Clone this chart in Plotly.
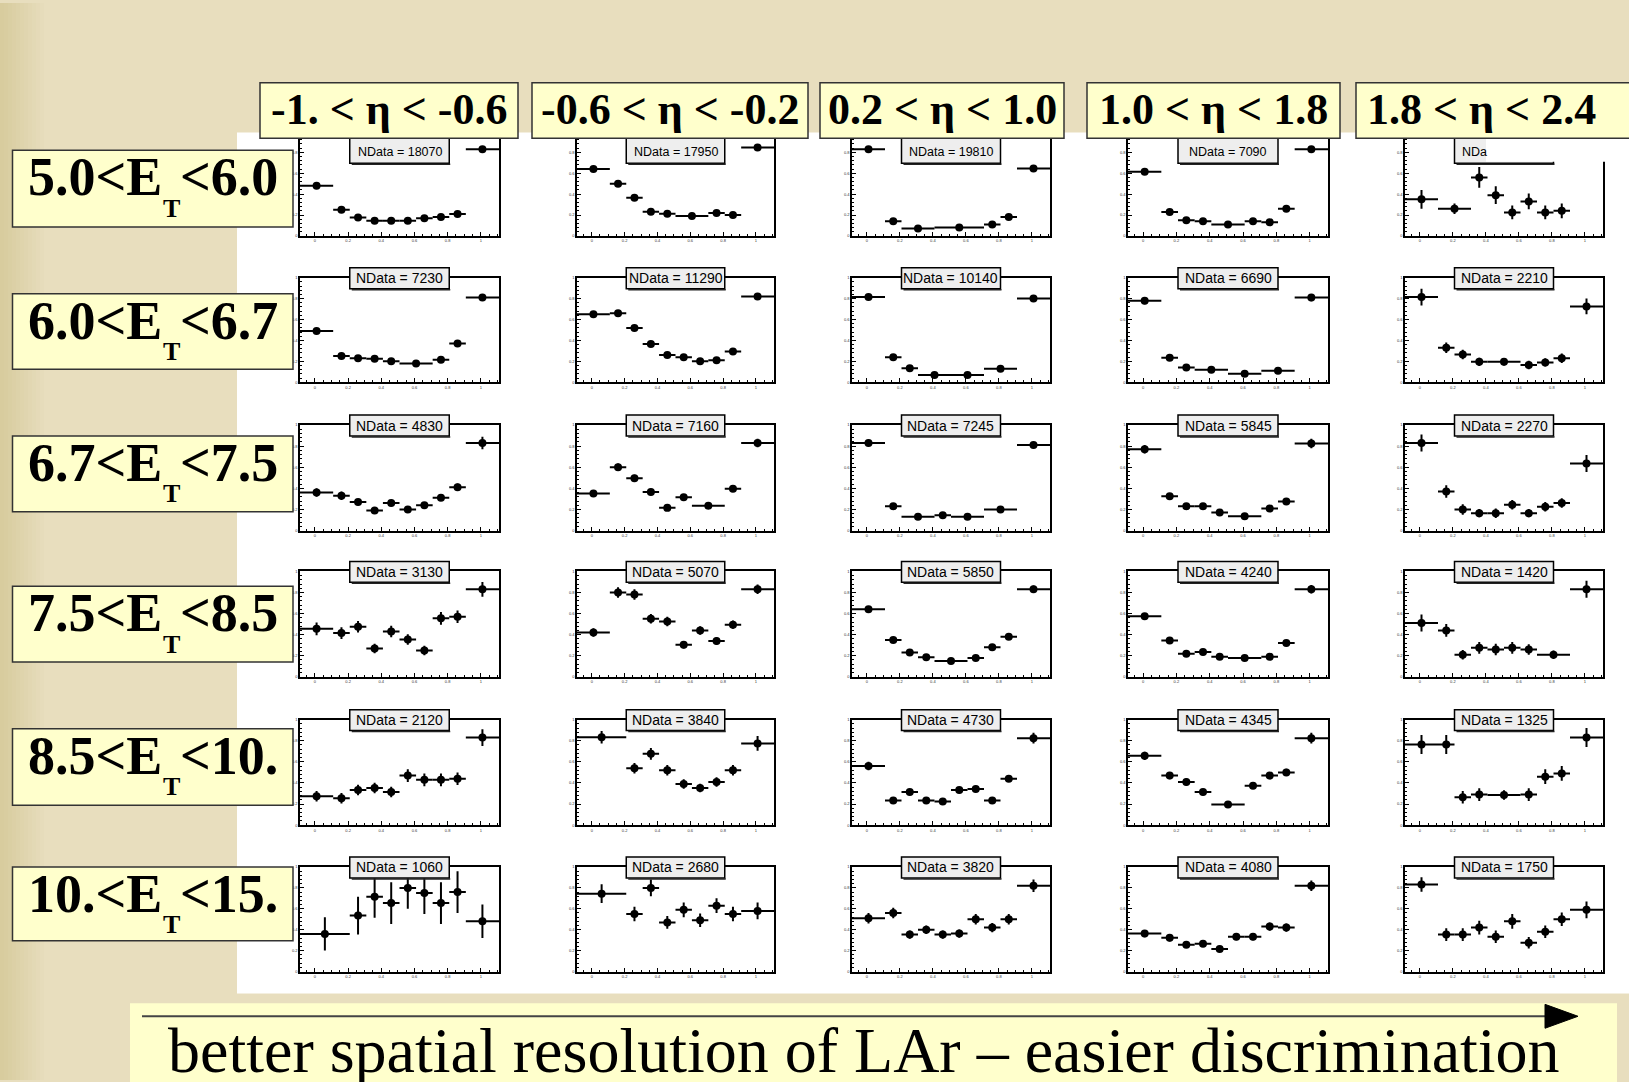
import plotly.graph_objects as go

W, H = 1629, 1082

# ---------------- labels ----------------
ETA_LABELS = ["-1. &lt; η &lt; -0.6", "-0.6 &lt; η &lt; -0.2", "0.2 &lt; η &lt; 1.0",
              "1.0 &lt; η &lt; 1.8", "1.8 &lt; η &lt; 2.4"]
ET_LEFT = ["5.0&lt;E", "6.0&lt;E", "6.7&lt;E", "7.5&lt;E", "8.5&lt;E", "10.&lt;E"]
ET_SUB = "T"
ET_RIGHT = ["&lt;6.0", "&lt;6.7", "&lt;7.5", "&lt;8.5", "&lt;10.", "&lt;15."]
NDATA = [["NData = 18070", "NData = 17950", "NData = 19810", "NData = 7090", "NDa"],
         ["NData = 7230", "NData = 11290", "NData = 10140", "NData = 6690", "NData = 2210"],
         ["NData = 4830", "NData = 7160", "NData = 7245", "NData = 5845", "NData = 2270"],
         ["NData = 3130", "NData = 5070", "NData = 5850", "NData = 4240", "NData = 1420"],
         ["NData = 2120", "NData = 3840", "NData = 4730", "NData = 4345", "NData = 1325"],
         ["NData = 1060", "NData = 2680", "NData = 3820", "NData = 4080", "NData = 1750"]]
BANNER = "better spatial resolution of LAr – easier discrimination"
X_TICKS = [0, 0.2, 0.4, 0.6, 0.8, 1]
X_TICKTEXT = ["0", "0.2", "0.4", "0.6", "0.8", "1"]

# ---------------- data (bin centres, half widths, normalised counts, errors) ----------------
STD_X = [0.01, 0.16, 0.26, 0.36, 0.46, 0.56, 0.66, 0.76, 0.86, 1.01]
STD_HW = [0.1, 0.05, 0.05, 0.05, 0.05, 0.05, 0.05, 0.05, 0.05, 0.1]

ROW1_X = [STD_X,
          [0.01, 0.16, 0.26, 0.36, 0.46, 0.61, 0.76, 0.86, 1.01],
          [0.01, 0.16, 0.31, 0.56, 0.76, 0.86, 1.01],
          [0.01, 0.16, 0.26, 0.36, 0.51, 0.66, 0.76, 0.86, 1.01],
          [0.01, 0.21, 0.36, 0.46, 0.56, 0.66, 0.76, 0.86]]
ROW1_HW = [STD_HW,
           [0.1, 0.05, 0.05, 0.05, 0.05, 0.1, 0.05, 0.05, 0.1],
           [0.1, 0.05, 0.1, 0.15, 0.05, 0.05, 0.1],
           [0.1, 0.05, 0.05, 0.05, 0.1, 0.05, 0.05, 0.05, 0.1],
           [0.1, 0.1, 0.05, 0.05, 0.05, 0.05, 0.05, 0.05]]
ROW1_Y = [[0.48, 0.25, 0.175, 0.145, 0.145, 0.145, 0.17, 0.18, 0.21, 0.83],
          [0.64, 0.50, 0.365, 0.232, 0.212, 0.19, 0.22, 0.20, 0.845],
          [0.83, 0.14, 0.07, 0.08, 0.11, 0.18, 0.645],
          [0.615, 0.23, 0.15, 0.14, 0.11, 0.14, 0.13, 0.26, 0.83],
          [0.35, 0.26, 0.56, 0.39, 0.225, 0.33, 0.225, 0.24]]
ROW1_E = [[0.012] * 10,
          [0.012] * 9,
          [0.01] * 7,
          [0.015] * 9,
          [0.09, 0.05, 0.1, 0.085, 0.065, 0.075, 0.065, 0.07]]

ROW2_X = [[0.01, 0.16, 0.26, 0.36, 0.46, 0.61, 0.76, 0.86, 1.01],
          STD_X,
          [0.01, 0.16, 0.26, 0.41, 0.61, 0.81, 1.01],
          [0.01, 0.16, 0.26, 0.41, 0.61, 0.81, 1.01],
          [0.01, 0.16, 0.26, 0.36, 0.51, 0.66, 0.76, 0.86, 1.01]]
ROW2_HW = [[0.1, 0.05, 0.05, 0.05, 0.05, 0.1, 0.05, 0.05, 0.1],
           STD_HW,
           [0.1, 0.05, 0.05, 0.1, 0.1, 0.1, 0.1],
           [0.1, 0.05, 0.05, 0.1, 0.1, 0.1, 0.1],
           [0.1, 0.05, 0.05, 0.05, 0.1, 0.05, 0.05, 0.05, 0.1]]
ROW2_Y = [[0.49, 0.25, 0.23, 0.225, 0.20, 0.18, 0.215, 0.37, 0.81],
          [0.65, 0.66, 0.52, 0.365, 0.26, 0.24, 0.20, 0.21, 0.295, 0.82],
          [0.815, 0.24, 0.135, 0.07, 0.07, 0.128, 0.80],
          [0.78, 0.235, 0.14, 0.12, 0.08, 0.11, 0.81],
          [0.815, 0.33, 0.265, 0.195, 0.195, 0.165, 0.19, 0.23, 0.725]]
ROW2_E = [[0.02, 0.015, 0.015, 0.015, 0.015, 0.012, 0.015, 0.02, 0.03],
          [0.02, 0.02, 0.02, 0.02, 0.015, 0.015, 0.015, 0.015, 0.02, 0.03],
          [0.02, 0.02, 0.015, 0.012, 0.012, 0.015, 0.02],
          [0.035, 0.02, 0.02, 0.02, 0.015, 0.02, 0.035],
          [0.08, 0.05, 0.045, 0.04, 0.035, 0.04, 0.04, 0.045, 0.075]]

ROW3_X = [STD_X,
          [0.01, 0.16, 0.26, 0.36, 0.46, 0.56, 0.71, 0.86, 1.01],
          [0.01, 0.16, 0.31, 0.46, 0.61, 0.81, 1.01],
          [0.01, 0.16, 0.26, 0.36, 0.46, 0.61, 0.76, 0.86, 1.01],
          STD_X]
ROW3_HW = [STD_HW,
           [0.1, 0.05, 0.05, 0.05, 0.05, 0.05, 0.1, 0.05, 0.1],
           [0.1, 0.05, 0.1, 0.05, 0.1, 0.1, 0.1],
           [0.1, 0.05, 0.05, 0.05, 0.05, 0.1, 0.05, 0.05, 0.1],
           STD_HW]
ROW3_Y = [[0.36, 0.33, 0.27, 0.19, 0.26, 0.20, 0.24, 0.31, 0.41, 0.83],
          [0.35, 0.60, 0.495, 0.365, 0.215, 0.315, 0.235, 0.395, 0.83],
          [0.83, 0.23, 0.13, 0.145, 0.13, 0.20, 0.81],
          [0.77, 0.325, 0.23, 0.23, 0.17, 0.135, 0.21, 0.275, 0.825],
          [0.83, 0.37, 0.20, 0.165, 0.165, 0.245, 0.165, 0.225, 0.26, 0.635]]
ROW3_E = [[0.04, 0.04, 0.03, 0.03, 0.03, 0.03, 0.03, 0.03, 0.035, 0.06],
          [0.025, 0.035, 0.035, 0.03, 0.025, 0.03, 0.02, 0.03, 0.04],
          [0.03, 0.02, 0.015, 0.015, 0.015, 0.02, 0.03],
          [0.04, 0.025, 0.02, 0.02, 0.02, 0.015, 0.02, 0.025, 0.045],
          [0.08, 0.06, 0.05, 0.04, 0.045, 0.045, 0.04, 0.045, 0.045, 0.08]]

ROW4_X = [STD_X,
          STD_X,
          [0.01, 0.16, 0.26, 0.36, 0.51, 0.66, 0.76, 0.86, 1.01],
          [0.01, 0.16, 0.26, 0.36, 0.46, 0.61, 0.76, 0.86, 1.01],
          [0.01, 0.16, 0.26, 0.36, 0.46, 0.56, 0.66, 0.81, 1.01]]
ROW4_HW = [STD_HW,
           STD_HW,
           [0.1, 0.05, 0.05, 0.05, 0.1, 0.05, 0.05, 0.05, 0.1],
           [0.1, 0.05, 0.05, 0.05, 0.05, 0.1, 0.05, 0.05, 0.1],
           [0.1, 0.05, 0.05, 0.05, 0.05, 0.05, 0.05, 0.1, 0.1]]
ROW4_Y = [[0.455, 0.415, 0.475, 0.27, 0.43, 0.355, 0.25, 0.555, 0.57, 0.83],
          [0.42, 0.80, 0.78, 0.55, 0.525, 0.305, 0.44, 0.34, 0.495, 0.83],
          [0.64, 0.35, 0.23, 0.185, 0.15, 0.18, 0.28, 0.38, 0.83],
          [0.575, 0.345, 0.22, 0.235, 0.19, 0.18, 0.19, 0.32, 0.83],
          [0.51, 0.44, 0.21, 0.275, 0.26, 0.275, 0.26, 0.21, 0.83]]
ROW4_E = [[0.06, 0.055, 0.055, 0.045, 0.055, 0.05, 0.045, 0.06, 0.06, 0.07],
          [0.04, 0.05, 0.05, 0.045, 0.045, 0.035, 0.04, 0.035, 0.04, 0.045],
          [0.03, 0.02, 0.02, 0.02, 0.015, 0.02, 0.02, 0.025, 0.035],
          [0.03, 0.025, 0.02, 0.02, 0.02, 0.015, 0.02, 0.025, 0.04],
          [0.08, 0.06, 0.045, 0.055, 0.055, 0.055, 0.05, 0.04, 0.08]]

ROW5_X = [STD_X,
          [0.06, 0.26, 0.36, 0.46, 0.56, 0.66, 0.76, 0.86, 1.01],
          STD_X,
          [0.01, 0.16, 0.26, 0.36, 0.51, 0.66, 0.76, 0.86, 1.01],
          [0.01, 0.16, 0.26, 0.36, 0.51, 0.66, 0.76, 0.86, 1.01]]
ROW5_HW = [STD_HW,
           [0.15, 0.05, 0.05, 0.05, 0.05, 0.05, 0.05, 0.05, 0.1],
           STD_HW,
           [0.1, 0.05, 0.05, 0.05, 0.1, 0.05, 0.05, 0.05, 0.1],
           [0.1, 0.05, 0.05, 0.05, 0.1, 0.05, 0.05, 0.05, 0.1]]
ROW5_Y = [[0.275, 0.255, 0.333, 0.353, 0.314, 0.47, 0.43, 0.43, 0.44, 0.83],
          [0.833, 0.54, 0.676, 0.52, 0.39, 0.353, 0.41, 0.52, 0.775],
          [0.56, 0.235, 0.314, 0.235, 0.225, 0.333, 0.343, 0.235, 0.44, 0.825],
          [0.657, 0.47, 0.41, 0.314, 0.196, 0.373, 0.47, 0.50, 0.825],
          [0.765, 0.765, 0.265, 0.29, 0.285, 0.29, 0.46, 0.49, 0.83]]
ROW5_E = [[0.05, 0.05, 0.05, 0.05, 0.05, 0.06, 0.06, 0.06, 0.06, 0.08],
          [0.06, 0.05, 0.055, 0.05, 0.045, 0.04, 0.045, 0.05, 0.07],
          [0.04, 0.025, 0.03, 0.025, 0.025, 0.03, 0.03, 0.025, 0.03, 0.05],
          [0.04, 0.035, 0.035, 0.03, 0.02, 0.03, 0.035, 0.035, 0.05],
          [0.09, 0.09, 0.06, 0.06, 0.045, 0.06, 0.07, 0.07, 0.09]]

ROW6_X = [[0.06, 0.26, 0.36, 0.46, 0.56, 0.66, 0.76, 0.86, 1.01],
          [0.06, 0.26, 0.36, 0.46, 0.56, 0.66, 0.76, 0.86, 1.01],
          STD_X,
          STD_X,
          STD_X]
ROW6_HW = [[0.15, 0.05, 0.05, 0.05, 0.05, 0.05, 0.05, 0.05, 0.1],
           [0.15, 0.05, 0.05, 0.05, 0.05, 0.05, 0.05, 0.05, 0.1],
           STD_HW,
           STD_HW,
           STD_HW]
ROW6_Y = [[0.36, 0.535, 0.715, 0.655, 0.80, 0.75, 0.655, 0.76, 0.48],
          [0.745, 0.55, 0.80, 0.47, 0.59, 0.49, 0.63, 0.55, 0.58],
          [0.51, 0.56, 0.353, 0.40, 0.353, 0.363, 0.50, 0.42, 0.50, 0.82],
          [0.363, 0.323, 0.255, 0.265, 0.216, 0.333, 0.333, 0.43, 0.42, 0.82],
          [0.833, 0.353, 0.353, 0.42, 0.333, 0.48, 0.275, 0.38, 0.50, 0.59]]
ROW6_E = [[0.16, 0.18, 0.2, 0.2, 0.2, 0.2, 0.2, 0.2, 0.16],
          [0.09, 0.07, 0.08, 0.06, 0.07, 0.065, 0.07, 0.07, 0.08],
          [0.05, 0.05, 0.04, 0.04, 0.04, 0.04, 0.05, 0.045, 0.05, 0.06],
          [0.035, 0.035, 0.03, 0.03, 0.03, 0.035, 0.035, 0.04, 0.04, 0.05],
          [0.07, 0.06, 0.06, 0.065, 0.06, 0.07, 0.055, 0.06, 0.065, 0.08]]

ALL_X = [ROW1_X, ROW2_X, ROW3_X, ROW4_X, ROW5_X, ROW6_X]
ALL_HW = [ROW1_HW, ROW2_HW, ROW3_HW, ROW4_HW, ROW5_HW, ROW6_HW]
ALL_Y = [ROW1_Y, ROW2_Y, ROW3_Y, ROW4_Y, ROW5_Y, ROW6_Y]
ALL_E = [ROW1_E, ROW2_E, ROW3_E, ROW4_E, ROW5_E, ROW6_E]

# ---------------- geometry (pixels) ----------------
COL_PX = [(300, 499), (577, 774), (852, 1050), (1128, 1328), (1405, 1603)]
ROW_PX = [(129, 234), (276, 381), (424, 530), (571, 677), (720, 826), (868, 973)]
ROWLAB_PX = [(148, 225), (292, 368), (435, 511), (586, 662), (729, 806), (868, 942)]
COLLAB_PX = [(260, 518), (532, 808), (820, 1064), (1087, 1340), (1356, 1640)]
COLTXT_X = [389, 670, 942, 1213, 1481]

BEIGE = "#E8DEBE"
LYEL = "#FFFFCC"
SERIF = "Liberation Serif"


def px(x):
    return x / W


def py(y):
    return 1 - y / H


fig = go.Figure()
layout = {}
shapes = []
annotations = []

# background: left gradient + white canvas + banner
for i in range(12):
    t = i / 11
    r = int(216 + (232 - 216) * t)
    g = int(204 + (222 - 204) * t)
    b = int(158 + (190 - 158) * t)
    shapes.append(dict(type="rect", xref="paper", yref="paper", x0=px(i * 4), x1=px(i * 4 + 4.5),
                       y0=0, y1=1, fillcolor=f"rgb({r},{g},{b})", line_width=0, layer="below"))
shapes.append(dict(type="rect", xref="paper", yref="paper", x0=px(237), x1=1, y0=py(995), y1=py(130),
                   fillcolor="white", line_width=0, layer="below"))
shapes.append(dict(type="rect", xref="paper", yref="paper", x0=px(130), x1=px(1617), y0=py(1090), y1=py(1005),
                   fillcolor=LYEL, line_width=0, layer="below"))
shapes.append(dict(type="line", xref="paper", yref="paper", x0=px(142), x1=px(1550), y0=py(1018), y1=py(1018),
                   line=dict(color="#444444", width=2), layer="above"))
shapes.append(dict(type="path", xref="paper", yref="paper",
                   path=f"M {px(1545)},{py(1006)} L {px(1578)},{py(1018)} L {px(1545)},{py(1030)} Z",
                   fillcolor="black", line=dict(color="black", width=1), layer="above"))

n = 0
for r in range(6):
    for c in range(5):
        n += 1
        sx = "" if n == 1 else str(n)
        x0, x1 = COL_PX[c]
        y0, y1 = ROW_PX[r]
        layout["xaxis" + sx] = dict(
            domain=[px(x0), px(x1)], anchor="y" + sx, range=[-0.09, 1.11],
            showline=True, mirror=True, linecolor="black", linewidth=1.5,
            ticks="inside", ticklen=4, tickwidth=1, tickcolor="black",
            tickvals=X_TICKS, ticktext=X_TICKTEXT,
            tickfont=dict(size=4, color="#333333", family="Liberation Sans"),
            minor=dict(ticks="inside", ticklen=2, dtick=0.05, tickcolor="black"),
            showgrid=False, zeroline=False, fixedrange=True)
        layout["yaxis" + sx] = dict(
            domain=[py(y1), py(y0)], anchor="x" + sx, range=[0, 1],
            showline=True, mirror=True, linecolor="black", linewidth=1.5,
            ticks="inside", ticklen=4, tickwidth=1, tickcolor="black",
            dtick=0.2, tickfont=dict(size=4, color="#333333", family="Liberation Sans"),
            minor=dict(ticks="inside", ticklen=2, dtick=0.04, tickcolor="black"),
            showgrid=False, zeroline=False, fixedrange=True)
        fig.add_trace(go.Scatter(
            x=ALL_X[r][c], y=ALL_Y[r][c], mode="markers",
            marker=dict(color="black", size=8, symbol="circle"),
            error_x=dict(type="data", array=ALL_HW[r][c], width=0, thickness=2, color="black"),
            error_y=dict(type="data", array=ALL_E[r][c], width=0, thickness=2, color="black"),
            xaxis="x" + sx, yaxis="y" + sx, showlegend=False, cliponaxis=False))

        # NData box
        bx0 = x0 + 0.25 * (x1 - x0)
        bx1 = x0 + 0.75 * (x1 - x0)
        if r == 0:
            by0, by1, ty, fs = 127, 161, 150, 12.5
        else:
            by0, by1, ty, fs = y0 - 10, y0 + 11, y0 + 0.5, 14
        shapes.append(dict(type="rect", xref="paper", yref="paper", x0=px(bx0), x1=px(bx1),
                           y0=py(by1), y1=py(by0), fillcolor="#EEEEEE",
                           line=dict(color="black", width=1.5), layer="above"))
        shapes.append(dict(type="line", xref="paper", yref="paper", x0=px(bx0 + 2), x1=px(bx1 + 1),
                           y0=py(by1 + 1), y1=py(by1 + 1), line=dict(color="#222222", width=1.5),
                           layer="above"))
        if r == 0 and c == 4:
            shapes.append(dict(type="rect", xref="paper", yref="paper", x0=px(1486), x1=px(1607),
                               y0=py(159.5), y1=py(126), fillcolor="white", line_width=0, layer="above"))
            annotations.append(dict(text=NDATA[r][c], xref="paper", yref="paper", x=px(bx0 + 5), y=py(ty),
                                    xanchor="left", yanchor="middle", showarrow=False,
                                    font=dict(size=fs, color="black", family="Liberation Sans")))
        else:
            annotations.append(dict(text=NDATA[r][c], xref="paper", yref="paper",
                                    x=px((bx0 + bx1) / 2), y=py(ty), xanchor="center", yanchor="middle",
                                    showarrow=False,
                                    font=dict(size=fs, color="black", family="Liberation Sans")))

# row label boxes
for r in range(6):
    a, b = ROWLAB_PX[r]
    shapes.append(dict(type="rect", xref="paper", yref="paper", x0=px(12.5), x1=px(293),
                       y0=py(b), y1=py(a), fillcolor=LYEL, line=dict(color="#333333", width=1.5),
                       layer="above"))
    annotations.append(dict(text="<b>" + ET_LEFT[r] + "</b>", xref="paper", yref="paper",
                            x=px(162), y=py(a + 27), xanchor="right", yanchor="middle",
                            showarrow=False, borderpad=0, borderwidth=0,
                            font=dict(size=54, color="black", family=SERIF)))
    annotations.append(dict(text="<b>" + ET_SUB + "</b>", xref="paper", yref="paper",
                            x=px(163), y=py(a + 58), xanchor="left", yanchor="middle",
                            showarrow=False, borderpad=0, borderwidth=0,
                            font=dict(size=26, color="black", family=SERIF)))
    annotations.append(dict(text="<b>" + ET_RIGHT[r] + "</b>", xref="paper", yref="paper",
                            x=px(180), y=py(a + 27), xanchor="left", yanchor="middle",
                            showarrow=False, borderpad=0, borderwidth=0,
                            font=dict(size=54, color="black", family=SERIF)))

# column label boxes
for c in range(5):
    a, b = COLLAB_PX[c]
    shapes.append(dict(type="rect", xref="paper", yref="paper", x0=px(a), x1=px(b),
                       y0=py(136), y1=py(80), fillcolor=LYEL, line=dict(color="#333333", width=1.5),
                       layer="above"))
    annotations.append(dict(text="<b>" + ETA_LABELS[c] + "</b>", xref="paper", yref="paper",
                            x=px(COLTXT_X[c]), y=py(107), xanchor="center", yanchor="middle",
                            showarrow=False,
                            font=dict(size=44, color="black", family=SERIF)))

annotations.append(dict(text=BANNER, xref="paper", yref="paper", x=px(864), y=py(1052),
                        xanchor="center", yanchor="middle", showarrow=False,
                        font=dict(size=64, color="black", family=SERIF)))

fig.update_layout(
    width=W, height=H, margin=dict(l=0, r=0, t=0, b=0),
    paper_bgcolor=BEIGE, plot_bgcolor="white",
    shapes=shapes, annotations=annotations, **layout)

fig.write_html("out.html", config={"displayModeBar": False})
